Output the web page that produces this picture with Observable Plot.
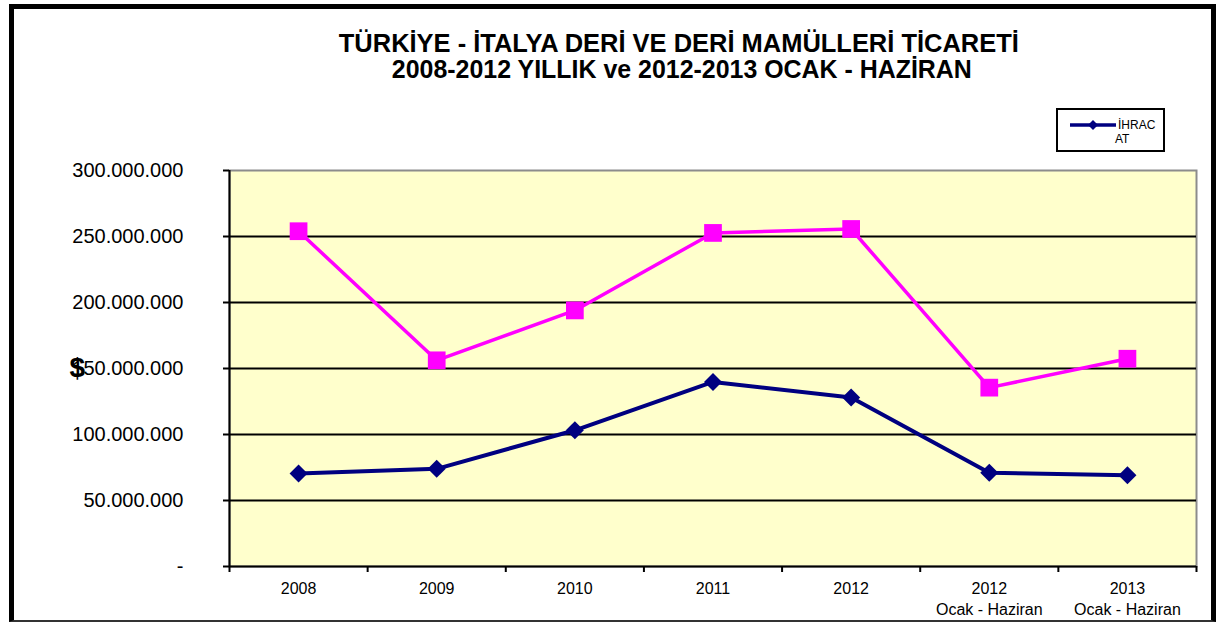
<!DOCTYPE html>
<html>
<head>
<meta charset="utf-8">
<script src="https://cdn.jsdelivr.net/npm/d3@7"></script>
<script src="https://cdn.jsdelivr.net/npm/@observablehq/plot@0.6"></script>
<style>
  body { margin: 0; background: #fff; }
  #wrap { position: relative; width: 1218px; height: 624px; overflow: hidden; font-family: "Liberation Sans", Arial, sans-serif; color: #000; }
  #border { position: absolute; left: 9px; top: 4px; width: 1197px; height: 611px; border: 5px solid #000; border-bottom: 2px solid #333; }
  .tline { position: absolute; width: 1218px; text-align: center; font-weight: bold; font-size: 25px; line-height: 24px; height: 24px; white-space: nowrap; }
  .tline span { display: inline-block; transform-origin: center center; }
  #chart { position: absolute; left: 0; top: 100px; }
  #legend { position: absolute; left: 1056px; top: 108px; width: 105px; height: 40px; border: 2px solid #000; background: #fff; font-size: 12px; }
  #legend svg { position: absolute; left: 12px; top: 8px; }
  #legend .l1 { position: absolute; left: 60px; top: 8px; line-height: 14px; }
  #legend .l2 { position: absolute; left: 57px; top: 22px; line-height: 14px; }
</style>
</head>
<body>
<div id="wrap">
  <div id="border"></div>
  <div class="tline" id="t1" style="top:31px;left:70px"><span></span></div>
  <div class="tline" id="t2" style="top:57px;left:73px"><span></span></div>
  <div id="chart"></div>
  <div id="legend"></div>
</div>
<script>
const titleLines = ["TÜRKİYE - İTALYA DERİ VE DERİ MAMÜLLERİ TİCARETİ", "2008-2012 YILLIK ve 2012-2013 OCAK - HAZİRAN"];
const titleWidths = [680, 580];
const categories = ["2008", "2009", "2010", "2011", "2012", "2012\nOcak - Haziran", "2013\nOcak - Haziran"];
const ihracat = [70.5e6, 74.0e6, 103.2e6, 139.8e6, 128.0e6, 71.0e6, 69.2e6];
const ithalat = [254.0e6, 156.2e6, 194.0e6, 252.7e6, 255.7e6, 135.5e6, 157.4e6];
const yTicks = [0, 50e6, 100e6, 150e6, 200e6, 250e6, 300e6];
const gridValues = [50e6, 100e6, 150e6, 200e6, 250e6];
const yLabel = "$";
const legendLabel = ["İHRAC", "AT"];

// Title, fitted to the reference width
titleLines.forEach((t, i) => {
  const span = document.querySelector(`#t${i + 1} span`);
  span.textContent = t;
  const w = span.getBoundingClientRect().width;
  span.style.transform = `scaleX(${titleWidths[i] / w})`;
});

const fmt = v => v === 0 ? "-" : d3.format(",")(v).replace(/,/g, ".");
const idx = categories.map((_, i) => i);
const bounds = categories.map((_, i) => i - 0.5).concat([categories.length - 0.5]);
const exp = idx.map(i => ({x: i, y: ihracat[i]}));
const imp = idx.map(i => ({x: i, y: ithalat[i]}));

const chart = Plot.plot({
  width: 1218,
  height: 524,
  marginTop: 70,
  marginBottom: 58,
  marginLeft: 229,
  marginRight: 22,
  style: {fontFamily: "'Liberation Sans', Arial, sans-serif", background: "transparent", color: "#000", overflow: "visible"},
  x: {type: "linear", domain: [-0.5, categories.length - 0.5], axis: null},
  y: {domain: [0, 300e6], axis: null},
  marks: [
    Plot.frame({fill: "#FFFFCC", stroke: "#8c8c8c", strokeWidth: 2}),
    Plot.ruleY(gridValues, {stroke: "#000", strokeWidth: 2}),
    Plot.axisY({ticks: yTicks, tickFormat: fmt, tickSize: 6, tickPadding: 40, fontSize: 20, strokeWidth: 2, label: null}),
    Plot.axisX({ticks: bounds, tickFormat: () => "", tickSize: 6, strokeWidth: 2, label: null}),
    Plot.axisX({ticks: idx, tickFormat: i => categories[i], tickSize: 0, tickPadding: 12, fontSize: 16, lineHeight: 1.35, label: null}),
    Plot.ruleX([-0.5], {stroke: "#000", strokeWidth: 2}),
    Plot.ruleY([0], {stroke: "#000", strokeWidth: 2}),
    Plot.text([yLabel], {frameAnchor: "left", dx: -160, fontSize: 28, fontWeight: "bold"}),
    Plot.line(imp, {x: "x", y: "y", stroke: "#FF00FF", strokeWidth: 3.5}),
    Plot.dot(imp, {x: "x", y: "y", symbol: "square", r: 10, fill: "#FF00FF", stroke: "none"}),
    Plot.line(exp, {x: "x", y: "y", stroke: "#000080", strokeWidth: 4}),
    Plot.dot(exp, {x: "x", y: "y", symbol: "square", r: 7.2, rotate: 45, fill: "#000080", stroke: "none"})
  ]
});
document.getElementById("chart").appendChild(chart);

// Legend
const lg = document.getElementById("legend");
lg.innerHTML = `<svg width="46" height="14"><line x1="0" y1="7" x2="46" y2="7" stroke="#000080" stroke-width="3.5"/><path d="M23 2 L28 7 L23 12 L18 7 Z" fill="#000080"/></svg><div class="l1">${legendLabel[0]}</div><div class="l2">${legendLabel[1]}</div>`;
</script>
</body>
</html>
